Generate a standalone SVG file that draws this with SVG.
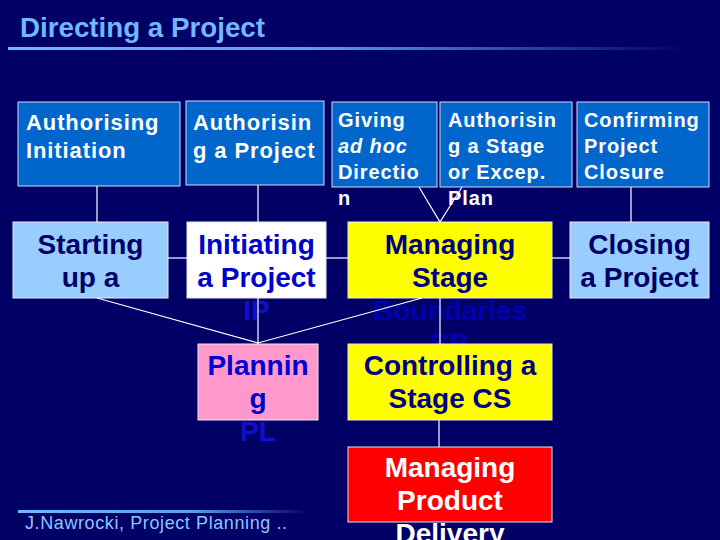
<svg xmlns="http://www.w3.org/2000/svg" width="720" height="540" viewBox="0 0 720 540">
<defs>
<linearGradient id="titleLine" x1="0" y1="0" x2="1" y2="0">
<stop offset="0" stop-color="#70b8ff"/>
<stop offset="0.45" stop-color="#5a9ef0"/>
<stop offset="1" stop-color="#000066"/>
</linearGradient>
<linearGradient id="footLine" x1="0" y1="0" x2="1" y2="0">
<stop offset="0" stop-color="#70b8ff"/>
<stop offset="0.6" stop-color="#5a9ef0"/>
<stop offset="1" stop-color="#000066"/>
</linearGradient>
<style>
text{font-family:"Liberation Sans",Arial,sans-serif;font-weight:bold}
.top{fill:#0066cc;stroke:#d8d8f0;stroke-width:1}
.tt1{fill:#ffffff;font-size:22px;letter-spacing:0.9px}
.tt2{fill:#ffffff;font-size:20px;letter-spacing:0.9px}
.box{stroke:#e8e8f0;stroke-width:1}
.mid{font-size:28px;text-anchor:middle}
.conn line,.conn polyline{stroke:#ffffff;stroke-width:1.2;fill:none}
</style>
</defs>
<rect x="0" y="0" width="720" height="540" fill="#000066"/>
<g id="title">
<text x="20" y="37" font-size="27" fill="#70b8ff" textLength="245" lengthAdjust="spacingAndGlyphs">Directing a Project</text>
<rect x="8" y="47" width="682" height="3" fill="url(#titleLine)"/>
</g>
<g id="authorising-initiation">
<rect class="top" x="18" y="102" width="162" height="84"/>
<text class="tt1" x="26" y="130">Authorising</text>
<text class="tt1" x="26" y="158">Initiation</text>
</g>
<g id="authorising-project">
<rect class="top" x="186" y="101" width="138" height="84"/>
<text class="tt1" x="193" y="130">Authorisin</text>
<text class="tt1" x="193" y="158">g a Project</text>
</g>
<g id="giving-direction">
<rect class="top" x="332" y="102" width="105" height="85"/>
<text class="tt2" x="338" y="127">Giving</text>
<text class="tt2" x="338" y="153" font-style="italic">ad hoc</text>
<text class="tt2" x="338" y="179">Directio</text>
<text class="tt2" x="338" y="205">n</text>
</g>
<g id="authorising-stage">
<rect class="top" x="440" y="102" width="132" height="85"/>
<text class="tt2" x="448" y="127">Authorisin</text>
<text class="tt2" x="448" y="153">g a Stage</text>
<text class="tt2" x="448" y="179">or Excep.</text>
<text class="tt2" x="448" y="205">Plan</text>
</g>
<g id="confirming-closure">
<rect class="top" x="577" y="102" width="132" height="85"/>
<text class="tt2" x="584" y="127">Confirming</text>
<text class="tt2" x="584" y="153">Project</text>
<text class="tt2" x="584" y="179">Closure</text>
</g>
<g id="starting-up">
<rect class="box" x="13" y="222" width="155" height="76" fill="#99ccff"/>
<text class="mid" x="90.5" y="254" fill="#000066">Starting</text>
<text class="mid" x="90.5" y="287" fill="#000066">up a</text>
</g>
<g id="initiating">
<rect class="box" x="187" y="222" width="139" height="76" fill="#ffffff"/>
<text class="mid" x="256.5" y="254" fill="#0000cc">Initiating</text>
<text class="mid" x="256.5" y="287" fill="#0000cc">a Project</text>
<text class="mid" x="256.5" y="320" fill="#1010cc">IP</text>
</g>
<g id="managing-stage-boundaries">
<rect class="box" x="348" y="222" width="204" height="76" fill="#ffff00"/>
<text class="mid" x="450" y="254" fill="#000080">Managing</text>
<text class="mid" x="450" y="287" fill="#000080">Stage</text>
<text class="mid" x="450" y="320" fill="#0000b0">Boundaries</text>
<text class="mid" x="450" y="353" fill="#0000b0">SB</text>
</g>
<g id="closing">
<rect class="box" x="570" y="222" width="139" height="76" fill="#99ccff"/>
<text class="mid" x="639.5" y="254" fill="#000066">Closing</text>
<text class="mid" x="639.5" y="287" fill="#000066">a Project</text>
</g>
<g id="planning">
<rect class="box" x="198" y="344" width="120" height="76" fill="#ff99cc"/>
<text class="mid" x="258" y="375" fill="#0000cc">Plannin</text>
<text class="mid" x="258" y="408" fill="#0000cc">g</text>
<text class="mid" x="258" y="441" fill="#1010cc">PL</text>
</g>
<g id="controlling-stage">
<rect class="box" x="348" y="344" width="204" height="76" fill="#ffff00"/>
<text class="mid" x="450" y="375" fill="#000080">Controlling a</text>
<text class="mid" x="450" y="408" fill="#000080">Stage CS</text>
</g>
<g id="managing-product-delivery">
<rect class="box" x="348" y="447" width="204" height="75" fill="#ff0000"/>
<text class="mid" x="450" y="477" fill="#ffffff">Managing</text>
<text class="mid" x="450" y="510" fill="#ffffff">Product</text>
<text class="mid" x="450" y="543" fill="#ffffff">Delivery</text>
</g>
<g id="connectors" class="conn">
<line x1="97" y1="186" x2="97" y2="222"/>
<line x1="258" y1="185" x2="258" y2="222"/>
<polyline points="419,187 440,222 462,187"/>
<line x1="631" y1="187" x2="631" y2="222"/>
<line x1="168" y1="258" x2="187" y2="258"/>
<line x1="326" y1="258" x2="348" y2="258"/>
<line x1="552" y1="258" x2="570" y2="258"/>
<polyline points="97,298 258,343 422,298"/>
<line x1="258" y1="298" x2="258" y2="344"/>
<line x1="440" y1="298" x2="440" y2="344"/>
<line x1="439" y1="420" x2="439" y2="447"/>
</g>
<g id="footer">
<rect x="18" y="510" width="292" height="3" fill="url(#footLine)"/>
<text x="25" y="529" font-size="18" fill="#8cc6ff" style="font-weight:normal" letter-spacing="0.6">J.Nawrocki, Project Planning ..</text>
</g>
</svg>
